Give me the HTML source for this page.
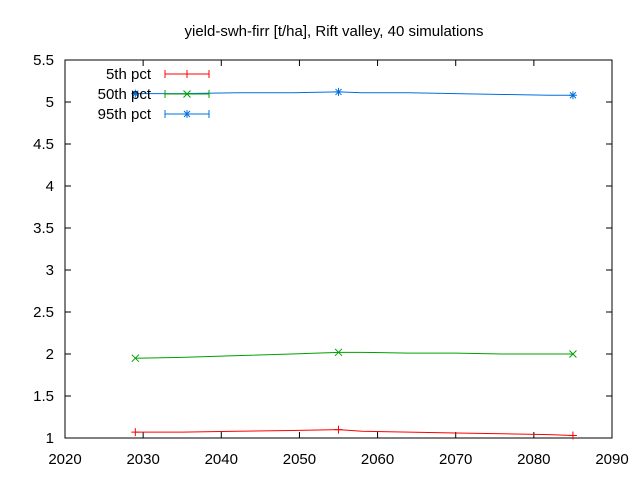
<!DOCTYPE html>
<html><head><meta charset="utf-8"><style>
body{margin:0;background:#fff}
svg text{font-family:"Liberation Sans",sans-serif;font-size:15px;fill:#000}
</style></head><body>
<svg id="chart" width="640" height="480">
<rect width="640" height="480" fill="#fff"/>
<text x="334" y="36" text-anchor="middle">yield-swh-firr [t/ha], Rift valley, 40 simulations</text>
<g id="axes"></g><g id="series"></g><g id="legend"></g>
</svg>
<script>
const years=[2029,2035,2042,2049,2055,2058,2064,2070,2076,2082,2085];
const p5=[1.07,1.07,1.08,1.09,1.10,1.08,1.07,1.06,1.05,1.04,1.03];
const p50=[1.95,1.96,1.98,2.00,2.02,2.02,2.01,2.01,2.00,2.00,2.00];
const p95=[5.10,5.10,5.11,5.11,5.12,5.11,5.11,5.10,5.09,5.08,5.08];
const markerYears=[2029,2055,2085];
const xTicks=[2020,2030,2040,2050,2060,2070,2080,2090];
const yTicks=[1,1.5,2,2.5,3,3.5,4,4.5,5,5.5];
const L=65,R=612,T=60,B=438;
const X=v=>L+(v-2020)/70*(R-L);
const Y=v=>B-(v-1)/4.5*(B-T);
const NS='http://www.w3.org/2000/svg';
function mk(tag,attrs,parent){const e=document.createElementNS(NS,tag);for(const k in attrs)e.setAttribute(k,attrs[k]);parent.appendChild(e);return e;}
const ax=document.getElementById('axes');
const box=mk('rect',{x:L,y:T,width:R-L,height:B-T,fill:'none',stroke:'#000','stroke-width':1},ax);


xTicks.forEach(t=>{
  mk('line',{x1:X(t),x2:X(t),y1:B,y2:B-6,stroke:'#000'},ax);
  mk('line',{x1:X(t),x2:X(t),y1:T,y2:T+6,stroke:'#000'},ax);
  const tx=mk('text',{x:X(t),y:B+26,'text-anchor':'middle'},ax);tx.textContent=t;
  
  
});
yTicks.forEach(t=>{
  mk('line',{x1:L,x2:L+6,y1:Y(t),y2:Y(t),stroke:'#000'},ax);
  mk('line',{x1:R,x2:R-6,y1:Y(t),y2:Y(t),stroke:'#000'},ax);
  const tx=mk('text',{x:L-11,y:Y(t)+5,'text-anchor':'end'},ax);tx.textContent=t;
  
  
});
function marker(g,type,x,y,c){
  if(type==='plus'){mk('path',{d:`M${x-4},${y}h8M${x},${y-4}v8`,stroke:c,fill:'none'},g);}
  else if(type==='x'){mk('path',{d:`M${x-3.5},${y-3.5}l7,7M${x-3.5},${y+3.5}l7,-7`,stroke:c,fill:'none'},g);}
  else{mk('path',{d:`M${x-4},${y}h8M${x},${y-4}v8M${x-3},${y-3}l6,6M${x-3},${y+3}l6,-6`,stroke:c,fill:'none'},g);}
}
const sg=document.getElementById('series');
const lg=document.getElementById('legend');
const defs=[['5th pct',p5,'#ff0000','plus'],['50th pct',p50,'#00a000','x'],['95th pct',p95,'#0070e0','star']];
defs.forEach((d,i)=>{
  const g=mk('g',{},sg);
  
  
  mk('polyline',{points:years.map((y,j)=>X(y)+','+Y(d[1][j])).join(' '),fill:'none',stroke:d[2],'stroke-width':1},g);
  markerYears.forEach(my=>{const j=years.indexOf(my);marker(g,d[3],X(my),Y(d[1][j]),d[2]);});
  const ly=74+i*20;
  const le=mk('g',{},lg);
  
  
  const t=mk('text',{x:151,y:ly+5,'text-anchor':'end'},le);t.textContent=d[0];
  mk('path',{d:`M165,${ly}h44M165,${ly-4}v8M209,${ly-4}v8`,stroke:d[2],fill:'none'},le);
  marker(le,d[3],187,ly,d[2]);
});
</script>
</body></html>
